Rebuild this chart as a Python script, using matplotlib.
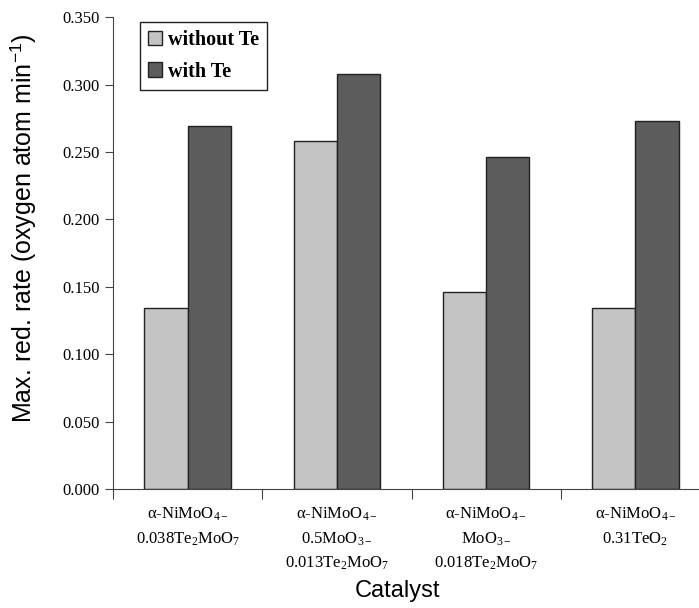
import numpy as np
import matplotlib
matplotlib.use('Agg')
import matplotlib.pyplot as plt

plt.rcParams['mathtext.fontset'] = 'custom'
plt.rcParams['mathtext.rm'] = 'Liberation Serif'
plt.rcParams['mathtext.it'] = 'Liberation Serif:italic'
plt.rcParams['mathtext.bf'] = 'Liberation Serif:bold'

# Catalyst labels (tick labels)
catalysts = [
    'α-NiMoO$_{4-}$' + '\n' + r'0.038Te$_2$MoO$_7$',
    'α-NiMoO$_{4-}$' + '\n' + r'0.5MoO$_{3-}$' + '\n' + r'0.013Te$_2$MoO$_7$',
    'α-NiMoO$_{4-}$' + '\n' + r'MoO$_{3-}$' + '\n' + r'0.018Te$_2$MoO$_7$',
    'α-NiMoO$_{4-}$' + '\n' + r'0.31TeO$_2$',
]
without_te = [0.134, 0.258, 0.146, 0.134]
with_te    = [0.269, 0.308, 0.246, 0.273]
series_names = ['without Te', 'with Te']
colors = ['#c4c4c4', '#5c5c5c']

fig = plt.figure(figsize=(6.99, 6.08), dpi=100)
ax = fig.add_axes([0.1617, 0.1957, 0.854, 0.776])

x = np.arange(len(catalysts))
w = 0.29
ax.bar(x - w/2, without_te, w, color=colors[0], edgecolor='#222222',
       linewidth=1.0, label=series_names[0])
ax.bar(x + w/2, with_te, w, color=colors[1], edgecolor='#222222',
       linewidth=1.0, label=series_names[1])

ax.set_xlim(-0.5, len(catalysts) - 0.5)
ax.set_ylim(0, 0.35)
ax.set_yticks(np.arange(0, 0.351, 0.05))
ax.set_yticklabels([f'{v:.3f}' for v in np.arange(0, 0.351, 0.05)],
                   family='Liberation Serif', fontsize=12)

# ticks on group boundaries, labels on centres
ax.set_xticks(np.arange(-0.5, len(catalysts), 1.0))
ax.set_xticklabels([])
ax.set_xticks(x, minor=True)
ax.set_xticklabels(catalysts, minor=True, family='Liberation Serif',
                   fontsize=12, linespacing=1.55)
ax.tick_params(axis='x', which='minor', length=0, pad=12)
ax.tick_params(axis='x', which='major', length=7, color='#444444')
ax.tick_params(axis='y', length=6, color='#444444')

for s in ['top', 'right']:
    ax.spines[s].set_visible(False)
for s in ['left', 'bottom']:
    ax.spines[s].set_color('#444444')

ax.set_ylabel(r'Max. red. rate (oxygen atom min$^{\mathregular{-1}}$)',
              family='Liberation Sans', fontsize=18)
ax.yaxis.set_label_coords(-0.125, 0.552)
ax.set_xlabel('Catalyst', family='Liberation Sans', fontsize=17)
ax.xaxis.set_label_coords(0.476, -0.193)

leg = ax.legend(loc='upper left', bbox_to_anchor=(0.045, 0.989),
                borderaxespad=0,
                prop={'family': 'Liberation Serif', 'weight': 'bold', 'size': 14.5},
                fancybox=False, edgecolor='#222222', framealpha=1,
                handlelength=0.7, handleheight=0.7, handletextpad=0.3,
                labelspacing=0.55, borderpad=0.4)
leg.get_frame().set_linewidth(1.0)

fig.savefig('out.png', dpi=100)
